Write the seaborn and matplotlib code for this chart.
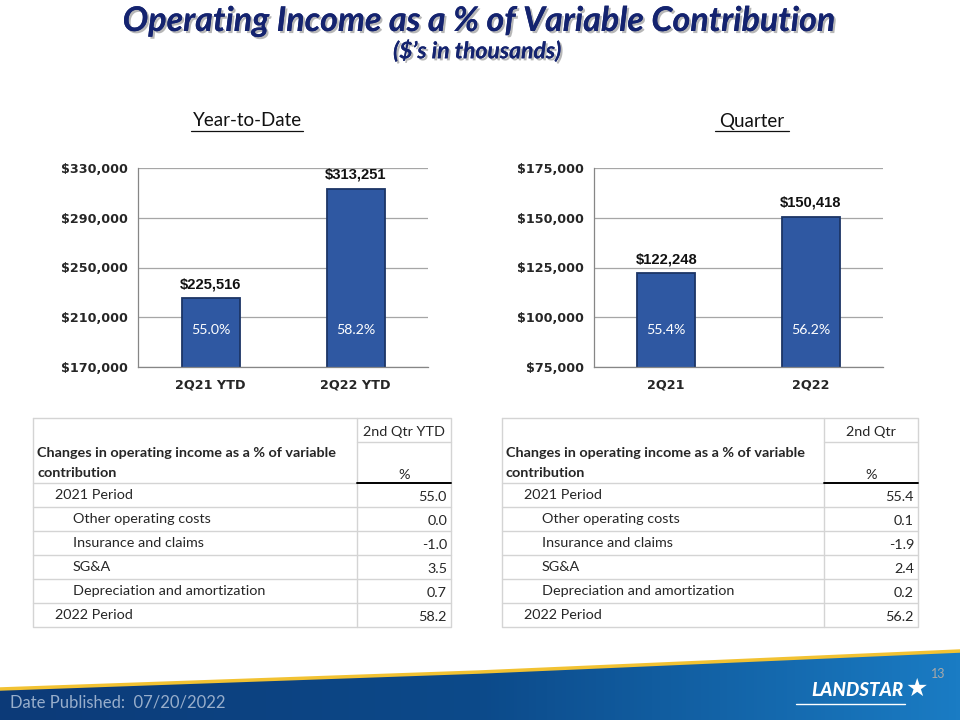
"""Operating income as a % of variable contribution slide (YTD and quarter)."""

import matplotlib
matplotlib.use('Agg')
import matplotlib.pyplot as plt
import matplotlib.patheffects as pe
from matplotlib.colors import LinearSegmentedColormap
from matplotlib.patches import Polygon
from matplotlib.ticker import FuncFormatter
import numpy as np
import seaborn as sns

# Chart data
ytd_periods = ['2Q21 YTD', '2Q22 YTD']
ytd_income = [225516, 313251]
ytd_pct = [55.0, 58.2]
ytd_ticks = [170000, 210000, 250000, 290000, 330000]

qtr_periods = ['2Q21', '2Q22']
qtr_income = [122248, 150418]
qtr_pct = [55.4, 56.2]
qtr_ticks = [75000, 100000, 125000, 150000, 175000]

# Table data
row_labels = ['2021 Period', 'Other operating costs', 'Insurance and claims',
              'SG&A', 'Depreciation and amortization', '2022 Period']
row_indent = [1, 2, 2, 2, 2, 1]
ytd_changes = [55.0, 0.0, -1.0, 3.5, 0.7, 58.2]
qtr_changes = [55.4, 0.1, -1.9, 2.4, 0.2, 56.2]

NAVY = '#14236f'
BAR = '#2f58a2'
BAR_EDGE = '#1c3566'
GRID = '#a6a6a6'
BODY_FONT = ['Lato', 'DejaVu Sans']
TABLE_FS = 10.4

sns.set_style('white')
plt.rcParams['font.family'] = BODY_FONT
plt.rcParams['text.parse_math'] = False

fig = plt.figure(figsize=(9.6, 7.2), dpi=100)

# Full-figure axes in pixel units for slide decorations and the tables.
deco = fig.add_axes([0, 0, 1, 1])
deco.set_zorder(-1)
deco.axis('off')


def bar_panel(rect, periods, income, pct, ticks):
    ax = fig.add_axes(rect)
    sns.barplot(x=periods, y=income, ax=ax, color=BAR, width=0.4,
                edgecolor=BAR_EDGE, linewidth=1.3, saturation=1)
    ax.set_ylim(ticks[0], ticks[-1])
    ax.set_xlim(-0.5, 1.5)
    ax.set_yticks(ticks)
    ax.yaxis.set_major_formatter(FuncFormatter(lambda v, _: f'${v:,.0f}'))
    ax.grid(axis='y', color=GRID, linewidth=0.9)
    ax.set_axisbelow(True)
    for side in ['top', 'right']:
        ax.spines[side].set_visible(False)
    for side in ['left', 'bottom']:
        ax.spines[side].set_color('#868686')
        ax.spines[side].set_linewidth(0.9)
    ax.tick_params(axis='y', length=4, color='#868686', pad=3)
    ax.tick_params(axis='x', length=0, pad=8)
    ax.set_xticks([-0.5, 0.5, 1.5], minor=True)
    ax.tick_params(axis='x', which='minor', length=4, color='#868686')
    for lab in ax.get_yticklabels() + ax.get_xticklabels():
        lab.set_family('DejaVu Sans')
        lab.set_fontweight('bold')
        lab.set_fontsize(9.2)
    ax.set_xlabel('')
    ax.set_ylabel('')
    ax.bar_label(ax.containers[0], labels=[f'${v:,.0f}' for v in income],
                 padding=5, fontsize=10.6, fontweight='bold',
                 family='Liberation Sans', color='#111111')
    for p, v in zip(ax.containers[0], pct):
        ax.text(p.get_x() + p.get_width() / 2, 0.186, f'{v:.1f}%',
                transform=ax.get_xaxis_transform(), ha='center', va='center',
                color='white', fontsize=10.2)
    return ax


bar_panel([138 / 960, 1 - 367 / 720, 290 / 960, 199 / 720],
          ytd_periods, ytd_income, ytd_pct, ytd_ticks)
bar_panel([594 / 960, 1 - 367 / 720, 289 / 960, 199 / 720],
          qtr_periods, qtr_income, qtr_pct, qtr_ticks)

# Title block
shadow = [pe.withSimplePatchShadow(offset=(1.5, -1.5), shadow_rgbFace='#888888', alpha=0.6),
          pe.Normal()]
deco.text(479, 21, 'Operating Income as a % of Variable Contribution', ha='center',
          va='center', fontsize=24.5, fontweight='bold', style='italic', color=NAVY,
          path_effects=shadow)
deco.text(477, 51, "($\u2019s in thousands)", ha='center', va='center', fontsize=16.5,
          fontweight='bold', style='italic', color=NAVY, path_effects=shadow)

# Section headings with underline
for cx, label, half in [(247, 'Year-to-Date', 56), (752, 'Quarter', 37)]:
    deco.text(cx, 121, label, ha='center', va='center', fontsize=13.5, color='#111111')
    deco.plot([cx - half, cx + half], [131, 131], color='#111111', lw=0.9)


def draw_table(x0, x1, xdiv, col_head, values):
    top, head2, body = 418, 442, 483
    row_h = 24
    bottom = body + row_h * len(values)
    line = dict(color='#d4d4d4', lw=1.0)
    deco.plot([x0, x1, x1, x0, x0], [top, top, bottom, bottom, top], **line)
    deco.plot([xdiv, xdiv], [top, bottom], **line)
    deco.plot([xdiv, x1], [head2, head2], **line)
    deco.plot([x0, xdiv], [body, body], **line)
    for i in range(1, len(values)):
        deco.plot([x0, x1], [body + i * row_h] * 2, **line)
    deco.plot([xdiv, x1], [body, body], color='black', lw=1.4)

    cx = (xdiv + x1) / 2
    deco.text(cx, 432, col_head, ha='center', va='center', fontsize=TABLE_FS)
    deco.text(x0 + 4, 453, 'Changes in operating income as a % of variable',
              ha='left', va='center', fontsize=TABLE_FS, fontweight='bold')
    deco.text(x0 + 4, 473, 'contribution', ha='left', va='center', fontsize=TABLE_FS,
              fontweight='bold')
    deco.text(cx, 475, '%', ha='center', va='center', fontsize=TABLE_FS)
    for i, (lab, ind, v) in enumerate(zip(row_labels, row_indent, values)):
        ytop = body + i * row_h
        deco.text(x0 + 4 + 18 * ind, ytop + 12, lab, ha='left', va='center',
                  fontsize=TABLE_FS)
        deco.text(x1 - 4, ytop + 14, f'{v:.1f}', ha='right', va='center',
                  fontsize=TABLE_FS)


draw_table(33, 451, 357, '2nd Qtr YTD', ytd_changes)
draw_table(502, 918, 824, '2nd Qtr', qtr_changes)

# Footer band with gradient and gold edge
grad = np.linspace(0, 1, 256).reshape(1, -1)
cmap = LinearSegmentedColormap.from_list('band', ['#0c3a78', '#0c4a8a', '#1a7cc4'])
im = deco.imshow(grad, extent=(0, 960, 720, 645), aspect='auto', cmap=cmap, zorder=1)
band = Polygon([(0, 689), (480, 672), (960, 651), (960, 720), (0, 720)],
               closed=True, transform=deco.transData)
im.set_clip_path(band)
deco.plot([0, 480, 960], [689, 672, 651], color='#f2c232', lw=2.5, zorder=2)
deco.set_xlim(0, 960)
deco.set_ylim(720, 0)

deco.text(10, 703, 'Date Published:  07/20/2022', ha='left', va='center',
          fontsize=12, color='#98aecb', zorder=3)
deco.text(938, 674, '13', ha='center', va='center', fontsize=9, color='#a9a9a9', zorder=3)
deco.text(857, 691, 'LANDSTAR', ha='center', va='center', fontsize=13.5,
          fontweight='black', style='italic', color='white', zorder=3)
deco.plot([796, 905], [704, 704], color='white', lw=1.0, zorder=3)
deco.text(917, 689, '\u2605', ha='center', va='center', fontsize=18, color='white',
          family='DejaVu Sans', zorder=3)

fig.savefig('out.png', dpi=100)
